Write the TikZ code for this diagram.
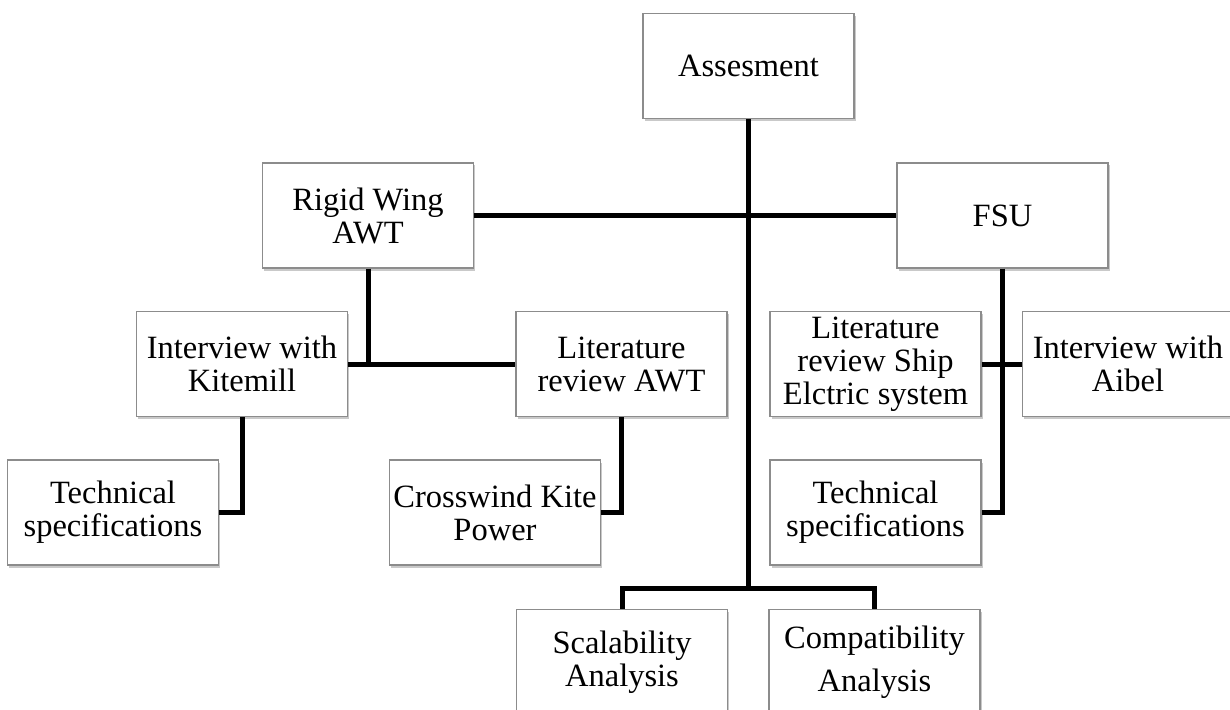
\documentclass[tikz,border=0pt]{standalone}
\usepackage{fontspec}
\setmainfont{Liberation Serif}
\usetikzlibrary{shadows}
\begin{document}
\begin{tikzpicture}[x=1bp,y=-1bp,
  box/.style={draw=black!45, line width=1.2bp, fill=white, minimum width=211bp, minimum height=105bp,
    align=center, inner sep=0pt, font=\fontsize{32.5bp}{33bp}\selectfont,
    drop shadow={shadow xshift=1.5bp, shadow yshift=-2.5bp, opacity=0.3, fill=black!70}},
  conn/.style={line width=5bp, black}]
\useasboundingbox (0,0) rectangle (1230,710);
\clip (0,0) rectangle (1230,710);
% nodes
\node[box] (ass) at (748.5,66) {Assesment};
\node[box] (rigid) at (368,215.5) {Rigid Wing\\AWT};
\node[box] (fsu) at (1002.5,215.5) {FSU};
\node[box] (kite) at (242,364) {Interview with\\Kitemill};
\node[box] (litawt) at (621.5,364) {Literature\\review AWT};
\node[box] (litship) at (875.5,364) {Literature\\review Ship\\Elctric system};
\node[box] (aibel) at (1128,364) {Interview with\\Aibel};
\node[box] (tech1) at (113,512.5) {Technical\\specifications};
\node[box] (cross) at (495,512.5) {Crosswind Kite\\Power};
\node[box] (tech2) at (875.5,512.5) {Technical\\specifications};
\node[box] (scal) at (622,662) {Scalability\\Analysis};
\node[box] (comp) at (874.5,662) {Compatibility\\[10bp]Analysis};
% connectors
\coordinate (bj) at (ass.south |- 0,588);
\draw[conn] (ass.south) -- (bj);
\draw[conn] (scal.north) |- (bj) -| (comp.north);
\draw[conn] (rigid.east) -- (fsu.west);
\coordinate (rj) at (rigid.south |- kite.east);
\draw[conn] (rigid.south) -- (rj);
\draw[conn] (kite.east) -- (litawt.west);
\draw[conn] (fsu.south) |- (tech2.east);
\draw[conn] (litship.east) -- (aibel.west);
\draw[conn] (kite.south) |- (tech1.east);
\draw[conn] (litawt.south) |- (cross.east);
\end{tikzpicture}
\end{document}
